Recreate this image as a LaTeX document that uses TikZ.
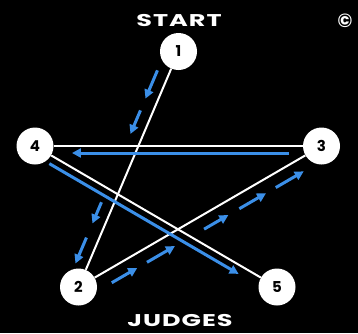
\documentclass[tikz,border=0pt]{standalone}
\usepackage{fontspec}
\setmainfont{Poppins}
\newfontfamily\widefont{Poppins}[FakeStretch=1.5, LetterSpace=6]
\usetikzlibrary{arrows.meta,calc}
\definecolor{pathblue}{HTML}{3B8FE8}

\begin{document}
\begin{tikzpicture}[x=1pt, y=-1pt,
    judge/.style={circle, fill=white, draw=none, minimum size=37pt, inner sep=0pt, text=black, font=\bfseries\fontsize{15}{15}\selectfont},
    title/.style={text=white, anchor=base, inner sep=0pt, font=\widefont\bfseries\fontsize{17}{17}\selectfont},
    link/.style={draw=white, line width=2pt},
    move/.style={draw=pathblue, line width=3pt, -{Triangle[length=9pt, width=9pt]}}
]
    % Background
    \fill[black] (0,0) rectangle (358,333);
    \useasboundingbox (0,0) rectangle (358,333);

    % Labels
    \node[title] (start) at (179,26) {START};
    \node[title] (judges) at (180,326) {JUDGES};
    \node[text=white, font=\bfseries\fontsize{19}{19}\selectfont] (copy) at (345,21) {\textcopyright};

    % Judges
    \node[judge] (j1) at (178.5,51.5) {1};
    \node[judge] (j2) at (78.5,287) {2};
    \node[judge] (j3) at (321.5,146) {3};
    \node[judge] (j4) at (35,146) {4};
    \node[judge] (j5) at (277,287) {5};

    % Star
    \draw[link] (j1) -- (j2);
    \draw[link] (j2) -- (j3);
    \draw[link] (j3) -- (j4);
    \draw[link] (j4) -- (j5);

    % Moves
    \foreach \a/\b in {0.10/0.22, 0.27/0.37, 0.66/0.75, 0.81/0.92}
        \draw[move] ($(j1)!\a!(j2)!12pt!-90:(j2)$) -- ($(j1)!\b!(j2)!12pt!-90:(j2)$);
    \foreach \a/\b in {0.11/0.215, 0.255/0.37, 0.49/0.59, 0.635/0.745, 0.785/0.9}
        \draw[move] ($(j2)!\a!(j3)!13pt!-90:(j3)$) -- ($(j2)!\b!(j3)!13pt!-90:(j3)$);
    \draw[move] ($(j3)!0.113!(j4)!7pt!90:(j4)$) -- ($(j3)!0.871!(j4)!7pt!90:(j4)$);
    \draw[move] ($(j4)!0.076!(j5)!8pt!-90:(j5)$) -- ($(j4)!0.858!(j5)!8pt!-90:(j5)$);
\end{tikzpicture}
\end{document}
